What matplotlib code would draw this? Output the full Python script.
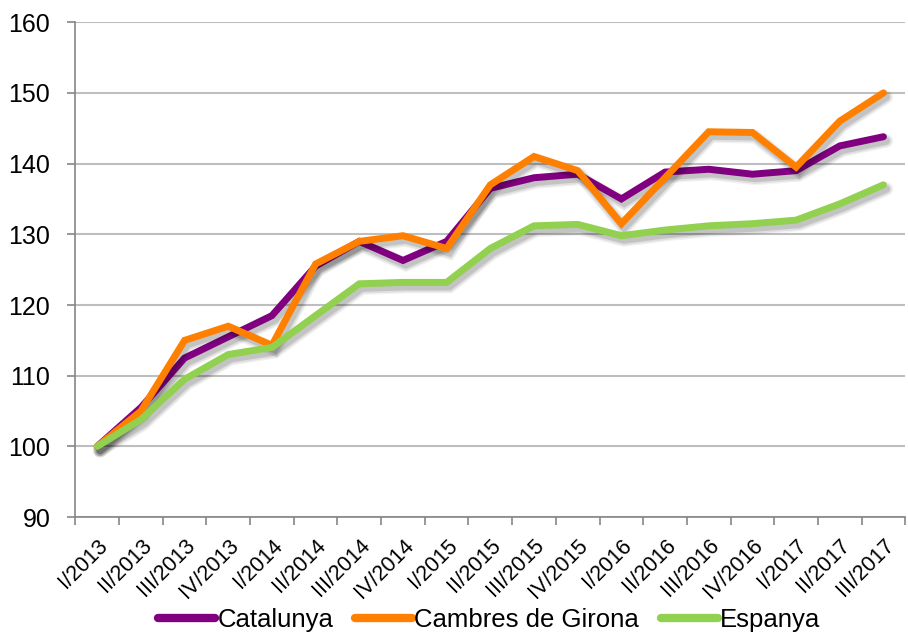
import matplotlib.pyplot as plt
import matplotlib.patheffects as pe
import numpy as np

plt.rcParams['font.family'] = ['Liberation Sans', 'DejaVu Sans']

quarters = ['I/2013', 'II/2013', 'III/2013', 'IV/2013',
            'I/2014', 'II/2014', 'III/2014', 'IV/2014',
            'I/2015', 'II/2015', 'III/2015', 'IV/2015',
            'I/2016', 'II/2016', 'III/2016', 'IV/2016',
            'I/2017', 'II/2017', 'III/2017']

catalunya = [100, 105.5, 112.5, 115.5, 118.5, 125.5, 129.0, 126.3, 129.0, 136.5,
             138.0, 138.5, 135.0, 138.8, 139.2, 138.5, 139.0, 142.5, 143.8]
girona = [100, 105.0, 115.0, 117.0, 114.3, 125.8, 129.0, 129.8, 128.0, 137.0,
          141.0, 139.0, 131.5, 138.0, 144.5, 144.4, 139.5, 146.0, 150.0]
espanya = [100, 103.8, 109.5, 113.0, 114.0, 118.5, 123.0, 123.2, 123.2, 128.0,
           131.2, 131.4, 129.8, 130.6, 131.2, 131.5, 132.0, 134.3, 137.0]

series = [('Catalunya', catalunya, '#800080'),
          ('Cambres de Girona', girona, '#FF8000'),
          ('Espanya', espanya, '#92D050')]

fig = plt.figure(figsize=(9.08, 6.33), dpi=100)
ax = fig.add_axes([0.083, 0.183, 0.914, 0.782])

x = np.arange(len(quarters))
# soft drop shadow, built from a few wide translucent strokes
shadow = [pe.SimpleLineShadow(offset=(2, -3), shadow_color='black', alpha=0.05, linewidth=10),
          pe.SimpleLineShadow(offset=(2, -3), shadow_color='black', alpha=0.08, linewidth=8),
          pe.SimpleLineShadow(offset=(2, -3), shadow_color='black', alpha=0.12, linewidth=5.5),
          pe.Normal()]
for name, vals, col in series:
    ax.plot(x, vals, color=col, lw=5, label=name, solid_joinstyle='miter',
            solid_capstyle='round', path_effects=shadow, zorder=3)

ax.set_xlim(-0.5, len(quarters) - 0.5)
ax.set_ylim(90, 160)
ax.set_yticks(range(90, 161, 10))
ax.yaxis.grid(True, color='#BEBEBE', lw=1.5)
ax.set_axisbelow(True)

ax.set_xticks(x)
ax.set_xticklabels(quarters, rotation=45, ha='right', rotation_mode='anchor', fontsize=15.5)
ax.set_xticks(np.arange(-0.5, len(quarters)), minor=True)
ax.tick_params(axis='x', which='major', length=0, pad=13)
ax.tick_params(axis='x', which='minor', length=6, color='#868686', width=1.2)
ax.tick_params(axis='y', length=6, color='#868686', width=1.2, labelsize=18, pad=12)

for s in ['top', 'right']:
    ax.spines[s].set_visible(False)
for s in ['left', 'bottom']:
    ax.spines[s].set_color('#868686')
    ax.spines[s].set_linewidth(1.2)

leg = fig.legend(loc='lower center', bbox_to_anchor=(0.539, -0.035), ncol=3, frameon=False,
                 fontsize=18.5, handlelength=2.2, handletextpad=0.1, columnspacing=0.85)
for h in leg.get_lines():
    h.set_linewidth(6)
    h.set_path_effects([])

fig.savefig('out.png', dpi=100)
